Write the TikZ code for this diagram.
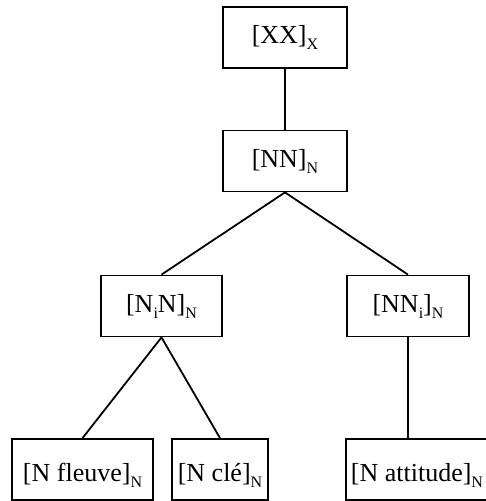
\documentclass[tikz,border=0pt]{standalone}
\usepackage{fontspec}
\setmainfont{Liberation Serif}
\newcommand\sbx[1]{\raisebox{-6pt}{\fontsize{16}{16}\selectfont #1}}
\begin{document}
\begin{tikzpicture}[x=1pt,y=-1pt,
  box/.style={draw,line width=1.8pt,minimum height=61pt,inner sep=0pt,font=\fontsize{26}{30}\selectfont},
  lowbox/.style={box,text height=24pt,text depth=1pt},
  link/.style={line width=1.8pt}]
\clip (0,0) rectangle (486,501);
\node[box,minimum width=124pt] (xx) at (285,37.5) {[XX]\sbx{X}};
\node[box,minimum width=124pt] (nn) at (285,161) {[NN]\sbx{N}};
\node[box,minimum width=121pt] (nin) at (161.5,306) {[N\sbx{i}N]\sbx{N}};
\node[box,minimum width=122pt] (nni) at (408,306) {[NN\sbx{i}]\sbx{N}};
\node[lowbox,minimum width=141pt] (fl) at (82.5,469.5) {[N fleuve]\sbx{N}};
\node[lowbox,minimum width=96pt] (cle) at (220,469.5) {[N clé]\sbx{N}};
\node[lowbox,anchor=west,inner xsep=5pt] (att) at (345,469.5) {[N attitude]\sbx{N}};
\draw[link] (xx.south) -- (nn.north);
\draw[link] (nn.south) -- (nin.north);
\draw[link] (nn.south) -- (nni.north);
\draw[link] (nin.south) -- (fl.north);
\draw[link] (nin.south) -- (cle.north);
\draw[link] (nni.south) -- (nni.south |- att.north);
\end{tikzpicture}
\end{document}
